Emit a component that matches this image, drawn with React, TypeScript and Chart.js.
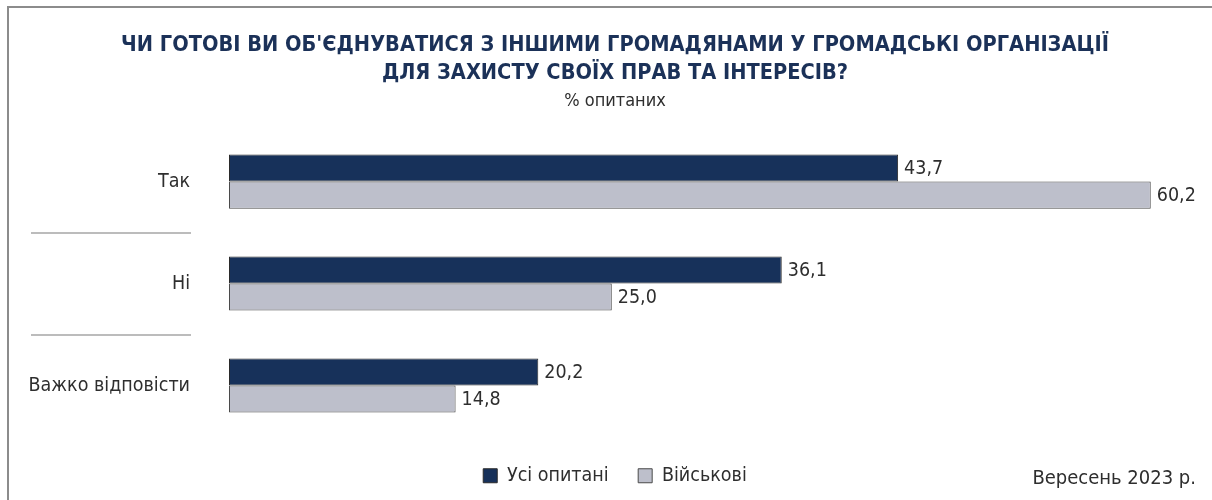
import React, { useEffect, useRef } from "react";
import { Chart, registerables } from "chart.js";

Chart.register(...registerables);

const categories = ["Так", "Ні", "Важко відповісти"];
const seriesNames = ["Усі опитані", "Військові"];
const allRespondents = [43.7, 36.1, 20.2];
const military = [60.2, 25.0, 14.8];
const titleLines = [
  "ЧИ ГОТОВІ ВИ ОБ'ЄДНУВАТИСЯ З ІНШИМИ ГРОМАДЯНАМИ У ГРОМАДСЬКІ ОРГАНІЗАЦІЇ",
  "ДЛЯ ЗАХИСТУ СВОЇХ ПРАВ ТА ІНТЕРЕСІВ?",
];
const subtitleText = "% опитаних";
const dateNote = "Вересень 2023 р.";

const NAVY = "#17315a";
const GREY = "#bdbfcb";
const TEXT = "#2e2e2e";
const COND = "'Liberation Sans Narrow', 'DejaVu Sans Condensed', Roboto, sans-serif";

const decorPlugin = {
  id: "decor",
  beforeDraw(chart: any) {
    const ctx = chart.ctx;
    ctx.save();
    ctx.fillStyle = "#ffffff";
    ctx.fillRect(0, 0, chart.width, chart.height);
    ctx.strokeStyle = "#8c8c8c";
    ctx.lineWidth = 2;
    ctx.beginPath();
    ctx.moveTo(8, chart.height);
    ctx.lineTo(8, 7);
    ctx.lineTo(chart.width, 7);
    ctx.stroke();
    const y = chart.scales.y;
    ctx.strokeStyle = "#bcbcbc";
    ctx.lineWidth = 2;
    for (let i = 0; i < categories.length - 1; i++) {
      const py = Math.round((y.getPixelForValue(i) + y.getPixelForValue(i + 1)) / 2);
      ctx.beginPath();
      ctx.moveTo(31, py);
      ctx.lineTo(191, py);
      ctx.stroke();
    }
    ctx.restore();
  },
  afterDatasetsDraw(chart: any) {
    const ctx = chart.ctx;
    ctx.save();
    ctx.font = `19.5px ${COND}`;
    ctx.fillStyle = TEXT;
    ctx.textBaseline = "middle";
    ctx.textAlign = "left";
    chart.data.datasets.forEach((ds: any, di: number) => {
      const meta = chart.getDatasetMeta(di);
      meta.data.forEach((bar: any, i: number) => {
        const v = ds.data[i] as number;
        ctx.fillText(v.toFixed(1).replace(".", ","), bar.x + 6, bar.y + 1);
      });
    });
    ctx.font = `20px ${COND}`;
    ctx.textAlign = "right";
    ctx.fillText(dateNote, 1196, 479);
    ctx.restore();
  },
};

export default function App() {
  const ref = useRef<HTMLCanvasElement>(null);
  useEffect(() => {
    if (!ref.current) return;
    const chart = new Chart(ref.current, {
      type: "bar",
      data: {
        labels: categories,
        datasets: [
          {
            label: seriesNames[0],
            data: allRespondents,
            backgroundColor: NAVY,
            borderColor: "#2a2a2a",
            borderWidth: 1,
            borderSkipped: false,
            barPercentage: 1,
            categoryPercentage: 0.531,
          },
          {
            label: seriesNames[1],
            data: military,
            backgroundColor: GREY,
            borderColor: "#4a4a4a",
            borderWidth: 1,
            borderSkipped: false,
            barPercentage: 1,
            categoryPercentage: 0.531,
          },
        ],
      },
      options: {
        indexAxis: "y",
        responsive: false,
        animation: false,
        layout: { padding: { left: 18, right: 0, top: 0, bottom: 4.5 } },
        scales: {
          x: { display: false, min: 0, max: 64.2 },
          y: {
            grid: { display: false, drawTicks: false },
            border: { display: false },
            ticks: { color: TEXT, font: { family: COND, size: 19.5 }, padding: 39 },
            afterFit(scale: any) {
              scale.width = 211;
            },
          },
        },
        plugins: {
          title: {
            display: true,
            text: titleLines,
            color: "#1b3158",
            font: { family: COND, size: 21.6, weight: "bold", lineHeight: 28 / 21.6 },
            padding: { top: 31, bottom: 0 },
          },
          subtitle: {
            display: true,
            text: subtitleText,
            color: TEXT,
            font: { family: COND, size: 18, lineHeight: 1.2 },
            padding: { top: 4, bottom: 18 },
          },
          legend: {
            position: "bottom",
            labels: {
              color: TEXT,
              font: { family: COND, size: 19.5 },
              boxWidth: 14,
              boxHeight: 14,
              padding: 29.5,
            },
          },
          tooltip: { enabled: false },
        },
      },
      plugins: [decorPlugin],
    } as any);
    return () => chart.destroy();
  }, []);
  return (
    <div style={{ position: "fixed", left: 0, top: 0, width: 1212, height: 500 }}>
      <canvas ref={ref} width={1212} height={500} />
    </div>
  );
}
